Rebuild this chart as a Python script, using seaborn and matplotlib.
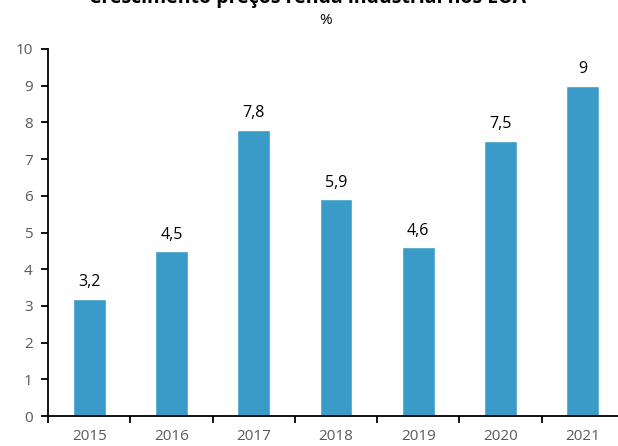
import matplotlib
matplotlib.use("Agg")
import matplotlib.pyplot as plt
import seaborn as sns
import pandas as pd
import numpy as np

years = ["2015", "2016", "2017", "2018", "2019", "2020", "2021"]
growth = [3.2, 4.5, 7.8, 5.9, 4.6, 7.5, 9.0]
value_labels = ["3,2", "4,5", "7,8", "5,9", "4,6", "7,5", "9"]
y_ticks = [0, 1, 2, 3, 4, 5, 6, 7, 8, 9, 10]

sns.set_theme(style="white")
plt.rcParams["font.family"] = ["Open Sans", "DejaVu Sans"]

df = pd.DataFrame({"ano": years, "valor": growth})

fig = plt.figure(figsize=(6.18, 4.46), dpi=100)
ax = fig.add_axes([48 / 618, 30 / 446, 576 / 618, 367 / 446])

sns.barplot(data=df, x="ano", y="valor", order=years, color="#3A9BC8",
            saturation=1, width=0.4, ax=ax)

ax.set_ylim(0, 10)
ax.set_xlim(-0.5, len(years) - 0.5)
ax.set_yticks(y_ticks)
ax.set_xlabel("")
ax.set_ylabel("")

for s in ["top", "right"]:
    ax.spines[s].set_visible(False)
for s in ["left", "bottom"]:
    ax.spines[s].set_color("black")
    ax.spines[s].set_linewidth(1.3)

# category labels centered, tick marks between categories
ax.set_xticks(range(len(years)))
ax.set_xticklabels(years)
ax.set_xticks(np.arange(-0.5, len(years), 1.0), minor=True)
ax.tick_params(axis="x", which="major", length=0, pad=9, labelsize=11, labelcolor="#595959")
ax.tick_params(axis="x", which="minor", direction="out", length=5, width=1.3, color="black", bottom=True)
ax.tick_params(axis="y", direction="out", length=5, width=1.3, color="black", left=True,
               labelsize=11, labelcolor="#595959", pad=6)

for i, (v, lab) in enumerate(zip(growth, value_labels)):
    ax.annotate(lab, (i, v), xytext=(0, 6), textcoords="offset points",
                ha="center", va="bottom", fontsize=11.5, color="black")

fig.text(0.497, 1.005, "Crescimento preços renda industrial nos EUA", ha="center", va="center",
         fontsize=14, fontweight="bold", color="black")
fig.text(0.526, 0.955, "%", ha="center", va="center", fontsize=11, color="black")

fig.savefig("out.png", dpi=100)
